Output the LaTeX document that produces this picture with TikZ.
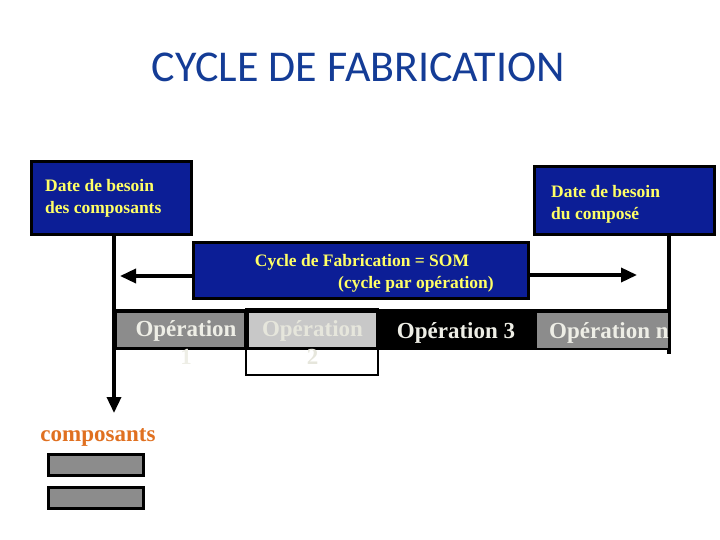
\documentclass[tikz,border=0pt]{standalone}
\usepackage{fontspec}
\setmainfont{Liberation Serif}
\newfontfamily\titlefont{Carlito}
\usetikzlibrary{arrows.meta}
\definecolor{boxblue}{RGB}{12,30,150}
\definecolor{txtyellow}{RGB}{255,255,102}
\definecolor{titleblue}{RGB}{20,60,150}
\definecolor{opgrey}{RGB}{140,140,140}
\definecolor{oplight}{RGB}{200,200,200}
\definecolor{optext}{RGB}{238,238,230}
\definecolor{optextlight}{RGB}{230,230,220}
\definecolor{comporange}{RGB}{224,112,32}
\begin{document}
\begin{tikzpicture}[x=1pt,y=-1pt,
  bluebox/.style={draw=black,line width=3pt,fill=boxblue,inner sep=0pt},
  datetxt/.style={text=txtyellow,font=\fontsize{17.5}{22}\selectfont\bfseries,align=left,inner sep=0pt},
  conn/.style={line width=3.5pt},
  arr/.style={conn,-{Triangle[length=16pt,width=14pt]}},
  optxt/.style={font=\fontsize{23}{28}\selectfont\bfseries,inner sep=0pt,align=center},
  opbox/.style={inner sep=0pt,minimum height=34pt},
  compbox/.style={draw=black,line width=2.5pt,fill=opgrey,inner sep=0pt,minimum width=95pt,minimum height=21pt}]
\useasboundingbox (0,0) rectangle (720,540);
\node[font=\titlefont\fontsize{44}{48}\selectfont,text=titleblue] (title) at (358.5,67) {CYCLE DE FABRICATION};

\node[bluebox,minimum width=160pt,minimum height=72pt] (b1) at (111,198) {};
\node[datetxt,anchor=west] (b1t) at (45,198) {Date de besoin\\des composants};
\node[bluebox,minimum width=180pt,minimum height=67pt] (b2) at (624,200.5) {};
\node[datetxt,anchor=west] (b2t) at (551,204) {Date de besoin\\du composé};
\node[bluebox,minimum width=335pt,minimum height=56pt] (mid) at (360.5,270) {};
\node[datetxt] (m1) at (362,262) {Cycle de Fabrication = SOM};
\node[datetxt] (m2) at (416,284) {(cycle par opération)};

\coordinate (la) at (120,276);
\coordinate (ra) at (637,275);
\draw[arr] (mid.west |- la) -- (la);
\draw[arr] (mid.east |- ra) -- (ra);

\coordinate (lv) at (114,413);
\coordinate (rv) at (669,354);
\draw[arr] (b1.south -| lv) -- (lv);

\node[fill=black,inner sep=0pt,minimum width=557pt,minimum height=41pt] (bar) at (390.5,329.5) {};
\draw[conn] (b2.south -| rv) -- (rv);

\node[opbox,fill=opgrey,minimum width=127pt] (op1) at (180.5,330) {};
\node[draw=black,line width=2pt,inner sep=0pt,minimum width=132pt,minimum height=66pt] (op2o) at (312,342) {};
\node[opbox,fill=oplight,minimum width=127pt] (op2) at (312.5,330) {};
\node[opbox,fill=opgrey,minimum width=131pt,minimum height=35pt] (opn) at (602.5,330.5) {};

\node[optxt,text=optext] (op1t) at (186,343) {Opération\\1};
\node[optxt,text=optextlight] (op2t) at (312.5,343) {Opération\\2};
\node[optxt,text=optext] (op3t) at (456,333) {Opération 3};
\begin{scope}
\clip (opn.north west) rectangle (opn.south east);
\node[optxt,text=optext,anchor=west] (opnt) at (549,333) {Opération n};
\end{scope}

\node[text=comporange,font=\fontsize{23}{28}\selectfont\bfseries,inner sep=0pt] (comp) at (98,437) {composants};
\node[compbox] (c1) at (96,465) {};
\node[compbox] (c2) at (96,498) {};
\end{tikzpicture}
\end{document}
